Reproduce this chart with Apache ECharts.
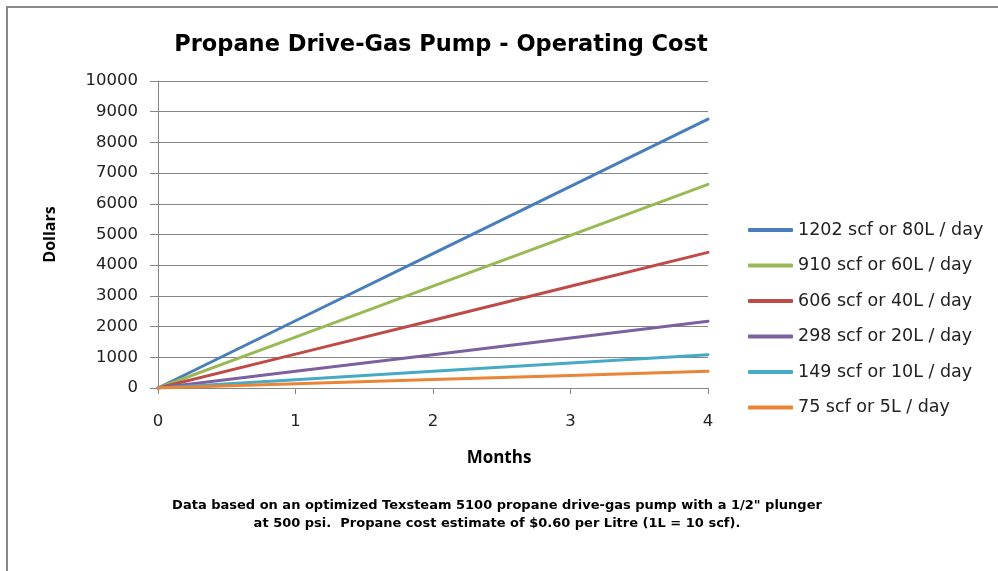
<!DOCTYPE html>
<html>
<head>
<meta charset="utf-8">
<script src="https://cdn.jsdelivr.net/npm/echarts@6/dist/echarts.min.js"></script>
<style>html,body{margin:0;padding:0;background:#fff}#c{width:998px;height:571px}</style>
</head>
<body>
<div id="c"></div>
<script>
const months = [0, 1, 2, 3, 4];
const seriesNames = ['1202 scf or 80L / day', '910 scf or 60L / day', '606 scf or 40L / day', '298 scf or 20L / day', '149 scf or 10L / day', '75 scf or 5L / day'];
const cost80L = [0, 2190, 4380, 6570, 8760];
const cost60L = [0, 1658, 3316, 4974, 6632];
const cost40L = [0, 1104, 2208, 3313, 4417];
const cost20L = [0, 543, 1086, 1629, 2172];
const cost10L = [0, 272, 543, 815, 1086];
const cost5L = [0, 137, 274, 410, 547];
const yTicks = [0, 1000, 2000, 3000, 4000, 5000, 6000, 7000, 8000, 9000, 10000];
const colors = ['#4A7EBB', '#98B954', '#BE4B48', '#7D60A0', '#46AAC5', '#EB8535'];
const allData = [cost80L, cost60L, cost40L, cost20L, cost10L, cost5L];

const chart = echarts.init(document.getElementById('c'), null, {renderer: 'canvas'});
const font = 'DejaVu Sans';
chart.setOption({
  animation: false,
  backgroundColor: '#fff',
  title: [{
    text: 'Propane Drive-Gas Pump - Operating Cost',
    left: 436, top: 29, textAlign: 'center',
    textStyle: {fontFamily: 'DejaVu Sans', fontWeight: 'bold', fontSize: 22.5, color: '#000'}
  }, {
    text: 'Data based on an optimized Texsteam 5100 propane drive-gas pump with a 1/2" plunger\nat 500 psi.  Propane cost estimate of $0.60 per Litre (1L = 10 scf).',
    left: 492, top: 492, textAlign: 'center',
    textStyle: {fontFamily: 'DejaVu Sans', fontWeight: 'bold', fontSize: 13, lineHeight: 18, color: '#000', align: 'center'}
  }, {
    text: 'Months',
    left: 494, top: 445, textAlign: 'center',
    textStyle: {fontFamily: 'Open Sans', fontWeight: 'bold', fontSize: 17, color: '#000'}
  }],
  graphic: [{
    type: 'rect', shape: {x: 7, y: 7, width: 1100, height: 700},
    style: {fill: 'none', stroke: '#888', lineWidth: 2}, silent: true
  }],
  legend: {
    orient: 'vertical', left: 748, top: 221, padding: 0,
    itemWidth: 45, itemHeight: 4, itemGap: 17.5,
    icon: 'roundRect',
    textStyle: {fontFamily: font, fontSize: 17.5, color: '#222'},
    data: seriesNames
  },
  grid: {left: 158, right: 290, top: 81, bottom: 183, containLabel: false},
  xAxis: {
    type: 'value', min: 0, max: 4, interval: 1,
    axisLine: {show: true, lineStyle: {color: '#868686', width: 1}},
    axisTick: {show: true, length: 6, lineStyle: {color: '#868686'}},
    axisLabel: {fontFamily: font, fontSize: 16.5, color: '#222', margin: 25},
    splitLine: {show: false}
  },
  yAxis: {
    type: 'value', min: yTicks[0], max: yTicks[yTicks.length - 1], interval: 1000,
    name: 'Dollars', nameLocation: 'middle', nameGap: 100, nameRotate: 90,
    nameTextStyle: {fontFamily: 'Open Sans', fontWeight: 'bold', fontSize: 16, color: '#000'},
    axisLine: {show: true, lineStyle: {color: '#868686', width: 1}},
    axisTick: {show: true, length: 8, lineStyle: {color: '#868686'}},
    axisLabel: {fontFamily: font, fontSize: 16.5, color: '#222', margin: 20, formatter: v => String(v)},
    splitLine: {show: true, lineStyle: {color: '#868686', width: 1}}
  },
  series: allData.map((d, i) => ({
    name: seriesNames[i], type: 'line',
    data: d.map((v, j) => [months[j], v]),
    showSymbol: false, symbol: 'none',
    lineStyle: {width: 3, color: colors[i], cap: 'round'},
    itemStyle: {color: colors[i]}
  }))
});
</script>
</body>
</html>
